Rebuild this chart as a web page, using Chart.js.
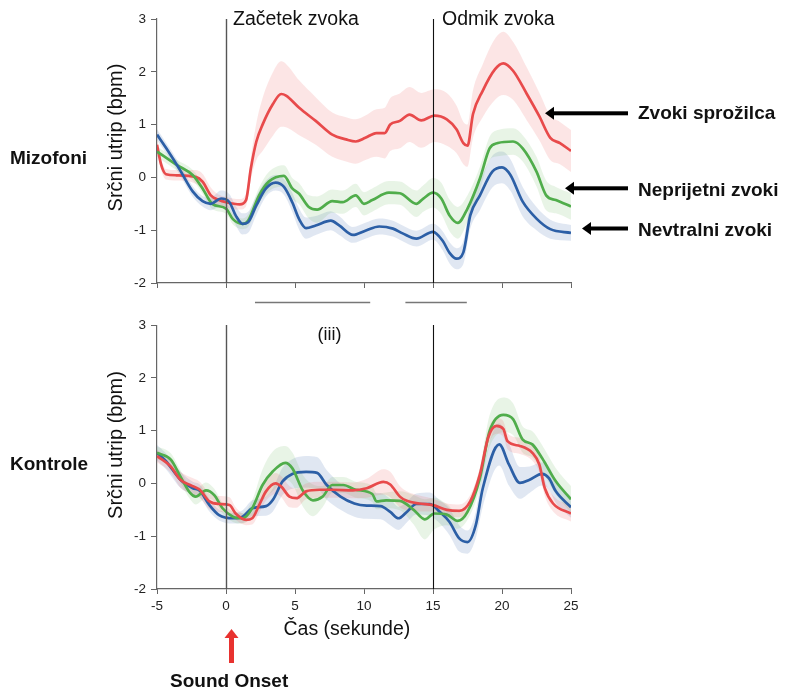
<!DOCTYPE html>
<html>
<head>
<meta charset="utf-8">
<script src="https://cdn.jsdelivr.net/npm/chart.js@4.4.1/dist/chart.umd.min.js"></script>
<style>
  body { margin: 0; background: #fff; }
  #wrap { position: relative; width: 787px; height: 690px; overflow: hidden; }
  canvas { position: absolute; left: 0; }
  #topChart { top: 0; }
  #botChart { top: 312px; }
</style>
</head>
<body>
<div id="wrap">
  <canvas id="topChart" width="787" height="312"></canvas>
  <canvas id="botChart" width="787" height="378"></canvas>
</div>
<script>
  // axis ticks
  const xTicks = [-5, 0, 5, 10, 15, 20, 25];
  const yTicks = [-2, -1, 0, 1, 2, 3];
  const eventTimes = [0, 15];
  const eventNames = ['Začetek zvoka', 'Odmik zvoka'];
  const rowNames = ['Mizofoni', 'Kontrole'];
  const seriesNames = ['Zvoki sprožilca', 'Neprijetni zvoki', 'Nevtralni zvoki'];
  const sigBars = [[2.1, 10.45], [13, 17.45]];

  // [time s, change bpm, band half-width]
  const misoTrigger = [[-5,0.62,0.1],[-4.7,0.24,0.1],[-4.35,0.06,0.1],[-3.6,0.04,0.1],[-2.2,0.01,0.13],[-1.7,-0.08,0.15],[-1.1,-0.34,0.15],[-0.5,-0.43,0.1],[0,-0.47,0.1],[1,-0.51,0.1],[1.45,-0.43,0.12],[1.8,0.17,0.2],[2.2,0.68,0.35],[2.65,1.0,0.5],[3.4,1.39,0.6],[4,1.58,0.62],[4.35,1.55,0.6],[5.3,1.32,0.52],[6.5,1.07,0.45],[7.7,0.81,0.42],[8.7,0.72,0.42],[9.4,0.68,0.42],[10.1,0.75,0.42],[10.9,0.84,0.45],[11.5,0.84,0.48],[11.9,1.0,0.5],[12.6,1.07,0.52],[13.3,1.19,0.52],[14.15,1.08,0.52],[15.1,1.17,0.5],[16,1.1,0.5],[16.7,0.91,0.45],[17.2,0.65,0.4],[17.5,0.6,0.4],[17.9,1.2,0.45],[18.6,1.64,0.5],[19.5,2.05,0.58],[20.1,2.16,0.6],[20.8,2.02,0.55],[21.8,1.58,0.5],[22.7,1.16,0.45],[23.5,0.75,0.42],[24.2,0.65,0.4],[25,0.5,0.4]];
  const misoUnpleasant = [[-5,0.49,0.1],[-3.6,0.24,0.1],[-2.4,0.04,0.1],[-1.7,-0.21,0.1],[-1,-0.5,0.1],[0,-0.59,0.1],[0.5,-0.79,0.1],[1.2,-0.88,0.1],[1.6,-0.82,0.12],[2.4,-0.34,0.15],[3.1,-0.08,0.18],[4.2,0.03,0.2],[4.8,-0.21,0.2],[5.3,-0.31,0.2],[6,-0.56,0.22],[6.6,-0.61,0.25],[7.7,-0.45,0.22],[8.45,-0.47,0.22],[9.4,-0.34,0.22],[10,-0.5,0.22],[10.6,-0.43,0.22],[11.8,-0.29,0.22],[12.6,-0.3,0.22],[13.8,-0.5,0.25],[14.3,-0.4,0.25],[15,-0.29,0.28],[15.6,-0.4,0.3],[16.2,-0.72,0.3],[16.8,-0.86,0.3],[17.5,-0.59,0.25],[18.4,-0.02,0.22],[19.1,0.55,0.22],[19.7,0.65,0.25],[20.8,0.68,0.25],[21.5,0.55,0.25],[22.5,0.11,0.28],[23.2,-0.34,0.28],[23.9,-0.43,0.25],[25,-0.55,0.25]];
  const misoNeutral = [[-5,0.81,0.1],[-4.35,0.56,0.1],[-3.4,0.17,0.1],[-2.4,-0.27,0.1],[-1.7,-0.45,0.1],[-1.1,-0.5,0.12],[-0.36,-0.4,0.15],[0.25,-0.47,0.15],[0.7,-0.72,0.18],[1.2,-0.88,0.2],[1.6,-0.85,0.2],[2.2,-0.53,0.18],[2.9,-0.21,0.15],[3.6,-0.1,0.15],[4.2,-0.18,0.15],[4.8,-0.47,0.18],[5.3,-0.79,0.2],[5.8,-0.96,0.2],[6.5,-0.91,0.18],[7.6,-0.82,0.18],[8.2,-0.91,0.18],[9.2,-1.09,0.15],[10.1,-1.01,0.15],[11.1,-0.93,0.15],[12.1,-0.97,0.15],[12.8,-1.06,0.15],[13.8,-1.16,0.15],[15,-1.03,0.15],[15.7,-1.2,0.18],[16.2,-1.43,0.2],[16.7,-1.54,0.2],[17.2,-1.42,0.22],[17.7,-0.72,0.25],[18.4,-0.34,0.28],[19.3,0.11,0.3],[20,0.19,0.3],[20.6,0.05,0.3],[21.5,-0.46,0.28],[22.5,-0.78,0.22],[23.5,-0.98,0.18],[25,-1.05,0.15]];

  const ctrlTrigger = [[-5,0.52,0.12],[-4,0.32,0.12],[-3.3,0.07,0.15],[-2.6,-0.03,0.15],[-1.9,-0.12,0.15],[-1.2,-0.34,0.15],[-0.5,-0.39,0.15],[0.25,-0.41,0.15],[0.7,-0.57,0.12],[1.45,-0.69,0.1],[1.9,-0.66,0.12],[2.4,-0.41,0.15],[2.9,-0.15,0.18],[3.6,0.0,0.2],[4.0,-0.06,0.2],[4.6,-0.25,0.2],[5.1,-0.28,0.18],[5.8,-0.15,0.15],[6.8,-0.12,0.15],[7.7,-0.12,0.15],[9.2,-0.13,0.15],[10.2,-0.09,0.18],[11.4,0.03,0.24],[11.9,-0.02,0.24],[12.6,-0.25,0.2],[13.1,-0.33,0.18],[14,-0.38,0.15],[15,-0.41,0.12],[16,-0.5,0.12],[16.9,-0.52,0.12],[17.7,-0.34,0.12],[18.4,0.17,0.12],[19,0.87,0.15],[19.6,1.09,0.15],[20.1,1.03,0.15],[20.4,0.8,0.15],[21.3,0.71,0.15],[22.2,0.58,0.15],[22.7,0.36,0.15],[23.1,-0.09,0.15],[23.7,-0.38,0.15],[25,-0.57,0.15]];
  const ctrlUnpleasant = [[-5,0.58,0.12],[-4,0.45,0.12],[-3.3,0.13,0.12],[-2.6,-0.18,0.12],[-2.2,-0.25,0.15],[-1.45,-0.13,0.15],[-0.85,-0.22,0.12],[-0.25,-0.47,0.1],[0.5,-0.63,0.1],[1.2,-0.66,0.1],[1.9,-0.47,0.15],[2.65,-0.03,0.3],[3.4,0.23,0.38],[4.3,0.39,0.32],[4.8,0.29,0.3],[5.6,-0.15,0.3],[6.3,-0.32,0.3],[7.0,-0.25,0.2],[7.7,-0.03,0.15],[8.5,-0.03,0.15],[9.4,-0.12,0.15],[10.6,-0.2,0.15],[10.9,-0.34,0.15],[11.6,-0.32,0.15],[12.6,-0.33,0.18],[13.6,-0.5,0.28],[14.4,-0.68,0.38],[15.1,-0.57,0.3],[16,-0.59,0.2],[16.8,-0.71,0.15],[17.5,-0.54,0.15],[18.4,0.1,0.2],[19.1,0.99,0.3],[20.1,1.3,0.33],[20.8,1.22,0.3],[21.5,0.83,0.25],[22.2,0.74,0.25],[22.9,0.48,0.25],[23.9,0.04,0.25],[25,-0.3,0.25]];
  const ctrlNeutral = [[-5,0.58,0.15],[-4.35,0.42,0.15],[-3.3,0.07,0.15],[-2.4,-0.09,0.12],[-1.9,-0.14,0.12],[-1.2,-0.41,0.12],[-0.5,-0.6,0.1],[0.5,-0.66,0.1],[1.2,-0.63,0.12],[1.9,-0.47,0.15],[2.9,-0.43,0.18],[3.4,-0.31,0.22],[4.1,0.04,0.26],[4.8,0.18,0.28],[5.8,0.22,0.3],[6.6,0.2,0.3],[7.3,-0.03,0.28],[8.3,-0.25,0.25],[9.3,-0.38,0.25],[10.2,-0.42,0.25],[11.2,-0.43,0.25],[11.9,-0.54,0.25],[12.5,-0.66,0.22],[13.1,-0.54,0.2],[13.8,-0.39,0.2],[14.75,-0.39,0.22],[15.5,-0.54,0.22],[16.2,-0.73,0.25],[16.9,-1.04,0.25],[17.5,-1.11,0.22],[18.1,-0.79,0.25],[18.6,-0.1,0.35],[19.8,0.74,0.4],[20.5,0.36,0.4],[21.3,0.01,0.3],[22,0.07,0.25],[22.9,0.18,0.22],[23.4,0.1,0.22],[23.9,-0.15,0.22],[25,-0.45,0.2]];

  const FONT = '"Liberation Sans", Arial, Helvetica, sans-serif';
  const RED = '#e84a4b', GREEN = '#50ad4b', BLUE = '#2c5fa6';
  const RED_BAND = 'rgba(240,100,100,0.17)';
  const GREEN_BAND = 'rgba(110,185,100,0.16)';
  const BLUE_BAND = 'rgba(70,110,175,0.17)';
  const AXIS = '#666';

  function buildDatasets(list) {
    const ds = [];
    list.forEach(s => {
      ds.push({ data: s.pts.map(p => ({ x: p[0], y: p[1] + p[2] })), borderWidth: 0, pointRadius: 0, fill: false, order: 10, cubicInterpolationMode: 'monotone' });
      ds.push({ data: s.pts.map(p => ({ x: p[0], y: p[1] - p[2] })), borderWidth: 0, pointRadius: 0, fill: '-1', backgroundColor: s.band, order: 10, cubicInterpolationMode: 'monotone' });
    });
    list.forEach(s => {
      ds.push({ data: s.pts.map(p => ({ x: p[0], y: p[1] })), borderColor: s.color, borderWidth: 2.7, pointRadius: 0, fill: false, order: s.z, cubicInterpolationMode: 'monotone' });
    });
    return ds;
  }

  function panelOptions(padTop, xHeight, showXLabels) {
    return {
      responsive: false,
      animation: false,
      layout: { padding: { left: 0, right: 216, top: padTop, bottom: 0 } },
      plugins: { legend: { display: false }, tooltip: { enabled: false } },
      scales: {
        x: {
          type: 'linear',
          min: xTicks[0], max: xTicks[xTicks.length - 1],
          ticks: { stepSize: xTicks[1] - xTicks[0], display: showXLabels, color: '#222', padding: 4, maxRotation: 0, font: { family: FONT, size: 13.5 } },
          grid: { drawOnChartArea: false, drawTicks: true, tickLength: 5, color: AXIS },
          border: { color: AXIS, width: 1.2 },
          afterFit: s => { s.height = xHeight; }
        },
        y: {
          min: yTicks[0], max: yTicks[yTicks.length - 1],
          ticks: { stepSize: yTicks[1] - yTicks[0], color: '#222', padding: 5, font: { family: FONT, size: 13.5 } },
          grid: { drawOnChartArea: false, drawTicks: true, tickLength: 6, color: AXIS },
          border: { color: AXIS, width: 1.2 },
          afterFit: s => { s.width = 157; }
        }
      }
    };
  }

  function drawEvents(ctx, a, x) {
    eventTimes.forEach((t, i) => {
      const px = Math.round(x.getPixelForValue(t)) + 0.5;
      ctx.strokeStyle = i === 0 ? '#555' : '#111';
      ctx.lineWidth = i === 0 ? 1.4 : 1.1;
      ctx.beginPath();
      ctx.moveTo(px, a.top);
      ctx.lineTo(px, a.bottom);
      ctx.stroke();
    });
  }

  function yTitle(ctx, cy) {
    ctx.save();
    ctx.translate(122, cy);
    ctx.rotate(-Math.PI / 2);
    ctx.fillStyle = '#111';
    ctx.font = '20px ' + FONT;
    ctx.textAlign = 'center';
    ctx.textBaseline = 'alphabetic';
    ctx.fillText('Srčni utrip (bpm)', 0, 0);
    ctx.restore();
  }

  function text(ctx, str, x, y, font, color) {
    ctx.fillStyle = color || '#111';
    ctx.font = font;
    ctx.textAlign = 'left';
    ctx.textBaseline = 'alphabetic';
    ctx.fillText(str, x, y);
  }

  function leftArrow(ctx, tip, tail, y) {
    ctx.fillStyle = '#000';
    ctx.fillRect(tip + 8, y - 2, tail - tip - 8, 4);
    ctx.beginPath();
    ctx.moveTo(tip, y);
    ctx.lineTo(tip + 9, y - 6.5);
    ctx.lineTo(tip + 9, y + 6.5);
    ctx.closePath();
    ctx.fill();
  }

  const topDecor = {
    id: 'topDecor',
    afterDatasetsDraw(chart) {
      const { ctx, chartArea: a, scales: { x } } = chart;
      ctx.save();
      drawEvents(ctx, a, x);
      text(ctx, eventNames[0], x.getPixelForValue(eventTimes[0]) + 7, 25, '19.5px ' + FONT);
      text(ctx, eventNames[1], x.getPixelForValue(eventTimes[1]) + 9, 25, '19.5px ' + FONT);
      ctx.strokeStyle = '#777';
      ctx.lineWidth = 1.5;
      sigBars.forEach(([t0, t1]) => {
        ctx.beginPath();
        ctx.moveTo(x.getPixelForValue(t0), 302.5);
        ctx.lineTo(x.getPixelForValue(t1), 302.5);
        ctx.stroke();
      });
      yTitle(ctx, 137.5);
      text(ctx, rowNames[0], 10, 163.5, 'bold 19px ' + FONT);
      const arrows = [[545, 113.3, 118.5], [565, 188.3, 195.5], [582, 228.5, 235.5]];
      arrows.forEach(([tip, y, base], i) => {
        leftArrow(ctx, tip, 628, y);
        text(ctx, seriesNames[i], 638, base, 'bold 19px ' + FONT);
      });
      ctx.restore();
    }
  };

  const botDecor = {
    id: 'botDecor',
    afterDatasetsDraw(chart) {
      const { ctx, chartArea: a, scales: { x } } = chart;
      ctx.save();
      drawEvents(ctx, a, x);
      text(ctx, '(iii)', 317.5, 27.5, '18px ' + FONT);
      yTitle(ctx, 133);
      text(ctx, rowNames[1], 10, 158, 'bold 19px ' + FONT);
      text(ctx, 'Čas (sekunde)', 283.5, 322.5, '19.5px ' + FONT);
      // sound onset marker
      ctx.fillStyle = '#e8322f';
      ctx.fillRect(229, 325, 5, 26);
      ctx.beginPath();
      ctx.moveTo(231.5, 317);
      ctx.lineTo(238.5, 326);
      ctx.lineTo(224.5, 326);
      ctx.closePath();
      ctx.fill();
      text(ctx, 'Sound Onset', 170, 374.5, 'bold 19px ' + FONT);
      ctx.restore();
    }
  };

  new Chart(document.getElementById('topChart'), {
    type: 'line',
    data: {
      datasets: buildDatasets([
        { pts: misoTrigger, color: RED, band: RED_BAND, z: 3 },
        { pts: misoUnpleasant, color: GREEN, band: GREEN_BAND, z: 2 },
        { pts: misoNeutral, color: BLUE, band: BLUE_BAND, z: 1 }
      ])
    },
    options: panelOptions(19, 29, false),
    plugins: [topDecor]
  });

  new Chart(document.getElementById('botChart'), {
    type: 'line',
    data: {
      datasets: buildDatasets([
        { pts: ctrlTrigger, color: RED, band: RED_BAND, z: 1 },
        { pts: ctrlUnpleasant, color: GREEN, band: GREEN_BAND, z: 2 },
        { pts: ctrlNeutral, color: BLUE, band: BLUE_BAND, z: 3 }
      ])
    },
    options: panelOptions(13, 101, true),
    plugins: [botDecor]
  });
</script>
</body>
</html>
